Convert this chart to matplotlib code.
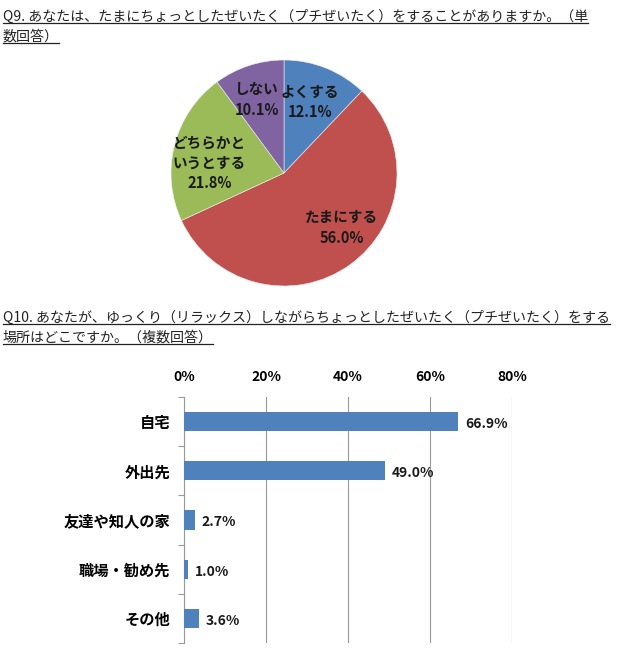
import matplotlib
matplotlib.use("Agg")
import matplotlib.pyplot as plt
from matplotlib.lines import Line2D

plt.rcParams['font.family'] = ['Noto Sans CJK JP', 'DejaVu Sans']

# ---- data ----
q9_title = ["Q9. あなたは、たまにちょっとしたぜいたく（プチぜいたく）をすることがありますか。（単",
            "数回答）"]
pie_labels = ["よくする", "たまにする", "どちらかと\nいうとする", "しない"]
pie_values = [12.1, 56.0, 21.8, 10.1]
pie_colors = ["#4F81BD", "#C0504D", "#9BBB59", "#8064A2"]
pie_label_pos = [(0.23, 0.63), (0.51, -0.48), (-0.66, 0.09), (-0.24, 0.65)]

q10_title = ["Q10. あなたが、ゆっくり（リラックス）しながらちょっとしたぜいたく（プチぜいたく）をする",
             "場所はどこですか。（複数回答）"]
bar_categories = ["自宅", "外出先", "友達や知人の家", "職場・勧め先", "その他"]
bar_values = [66.9, 49.0, 2.7, 1.0, 3.6]
x_ticks = [0, 20, 40, 60, 80]
x_tick_labels = ["0%", "20%", "40%", "60%", "80%"]

W, H = 640, 654
fig = plt.figure(figsize=(W / 100, H / 100), dpi=100)
fig.patch.set_facecolor("white")

def px(x, y):
    return x / W, 1 - y / H

# ---- titles with underline ----
title_texts = []
def title_line(x, y, s):
    t = fig.text(*px(x, y), s, fontsize=10.1, ha="left", va="center", color="#222222")
    title_texts.append(t)

title_line(3, 17, q9_title[0])
title_line(3, 37, q9_title[1])
title_line(3, 318, q10_title[0])
title_line(3, 338, q10_title[1])

# ---- pie ----
r = 113
cx, cy = 284, 173
ax1 = fig.add_axes([(cx - r) / W, 1 - (cy + r) / H, 2 * r / W, 2 * r / H])
ax1.pie(pie_values, colors=pie_colors, startangle=90, counterclock=False,
        wedgeprops=dict(edgecolor="#f0f0f0", linewidth=0.4))
ax1.set_aspect("auto")
ax1.set_xlim(-1, 1)
ax1.set_ylim(-1, 1)
for lab, val, (lx, ly) in zip(pie_labels, pie_values, pie_label_pos):
    ax1.text(lx, ly, f"{lab}\n{val:.1f}%", ha="center", va="center",
             fontsize=10.5, fontweight="bold", color="#1a1a1a", linespacing=1.35)

# ---- bar chart ----
left, right, top, bottom = 184, 512, 397, 643
ax2 = fig.add_axes([left / W, 1 - bottom / H, (right - left) / W, (bottom - top) / H])
ypos = list(range(len(bar_categories)))
ax2.barh(ypos, bar_values, height=0.39, color="#4F81BD", zorder=3)
ax2.set_xlim(0, 80)
ax2.set_ylim(len(bar_categories) - 0.5, -0.5)
ax2.set_xticks(x_ticks)
ax2.set_xticklabels(x_tick_labels, fontsize=10, fontweight="bold")
ax2.xaxis.tick_top()
ax2.tick_params(axis="x", length=0, pad=9)
ax2.set_yticks(ypos)
ax2.set_yticklabels(bar_categories, fontsize=11, fontweight="bold")
ax2.tick_params(axis="y", which="major", length=0, pad=10)
ax2.set_yticks([i - 0.5 for i in range(len(bar_categories) + 1)], minor=True)
ax2.tick_params(axis="y", which="minor", length=4, color="#999999", width=0.8)
ax2.grid(axis="x", color="#999999", linewidth=0.8, zorder=0)
for s in ["top", "right", "bottom"]:
    ax2.spines[s].set_visible(False)
ax2.spines["left"].set_color("#999999")
for y, v in zip(ypos, bar_values):
    ax2.text(v + 1.6, y + 0.05, f"{v:.1f}%", va="center", ha="left",
             fontsize=10, fontweight="bold", color="#1a1a1a")

# underline titles
fig.canvas.draw()
renderer = fig.canvas.get_renderer()
inv = fig.transFigure.inverted()
for t in title_texts:
    bb = t.get_window_extent(renderer)
    (x0, y0), (x1, y1) = inv.transform([(bb.x0, bb.y0), (bb.x1, bb.y1)])
    fig.add_artist(Line2D([x0, x1], [y0 + 0.001, y0 + 0.001], transform=fig.transFigure,
                          color="#222222", linewidth=0.9))

fig.savefig("out.png", dpi=100, facecolor="white")
